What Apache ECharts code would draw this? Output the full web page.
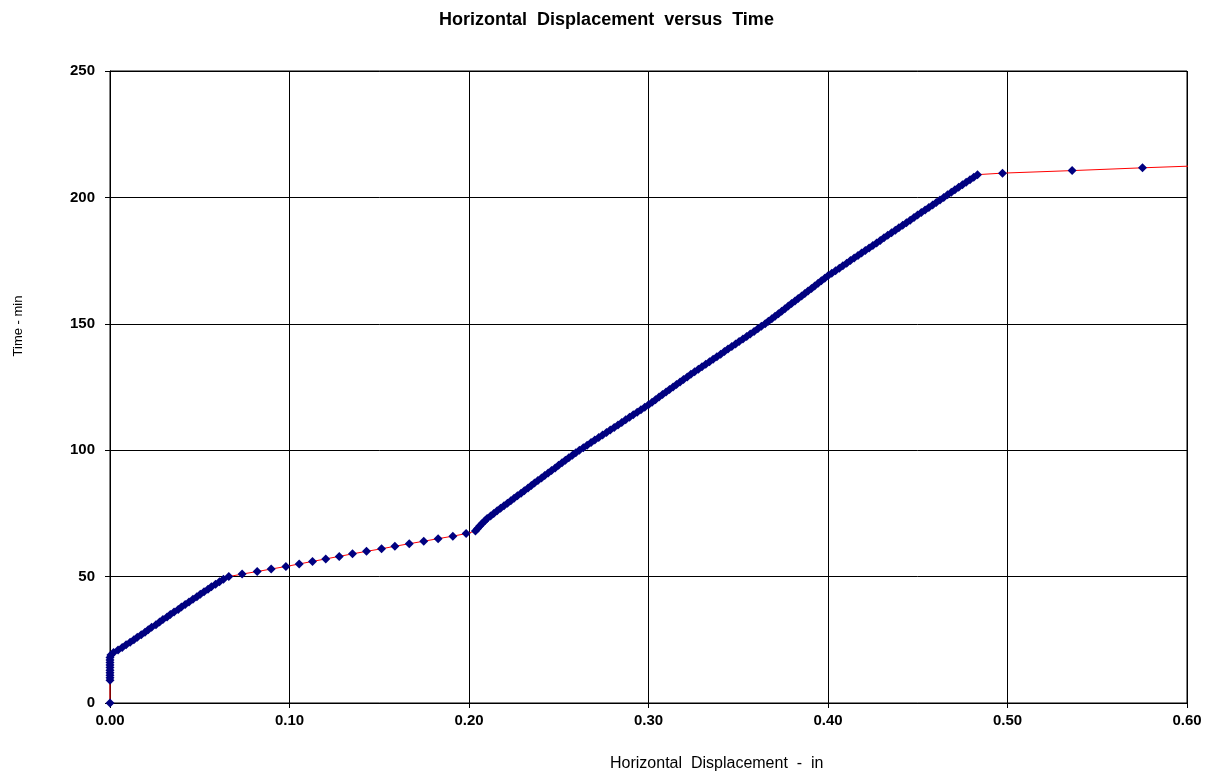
<!DOCTYPE html>
<html>
<head>
<meta charset="utf-8">
<title>Horizontal Displacement versus Time</title>
<script src="https://cdn.jsdelivr.net/npm/echarts@6/dist/echarts.min.js"></script>
<style>
  html, body { margin: 0; padding: 0; background: #ffffff; }
  #chart { width: 1213px; height: 772px; }
</style>
</head>
<body>
<div id="chart"></div>
<script>
// Elapsed time of each reading (min)
const timeMin = [
  0, 9, 10, 11, 12, 13, 14, 15, 16, 17, 18, 19,
  20, 21, 22, 23, 24, 25, 26, 27, 28, 29, 30, 31, 32, 33, 34, 35, 36, 37, 38, 39,
  40, 41, 42, 43, 44, 45, 46, 47, 48, 49,
  50, 51, 52, 53, 54, 55, 56, 57, 58, 59, 60, 61, 62, 63, 64, 65, 66, 67,
  68, 69, 70, 71, 72, 73, 74, 75, 76, 77, 78, 79, 80, 81, 82, 83, 84, 85, 86, 87, 88, 89,
  90, 91, 92, 93, 94, 95, 96, 97, 98, 99, 100, 101, 102, 103, 104, 105, 106, 107, 108, 109,
  110, 111, 112, 113, 114, 115, 116, 117, 118, 119, 120, 121, 122, 123, 124, 125, 126, 127, 128, 129,
  130, 131, 132, 133, 134, 135, 136, 137, 138, 139, 140, 141, 142, 143, 144, 145, 146, 147, 148, 149,
  150, 151, 152, 153, 154, 155, 156, 157, 158, 159, 160, 161, 162, 163, 164, 165, 166, 167, 168, 169,
  170, 171, 172, 173, 174, 175, 176, 177, 178, 179, 180, 181, 182, 183, 184, 185, 186, 187, 188, 189,
  190, 191, 192, 193, 194, 195, 196, 197, 198, 199, 200, 201, 202, 203, 204, 205, 206, 207, 208, 209,
  209.6, 210.6, 211.7, 212.7
];

// Horizontal displacement of each reading (in)
const displacementIn = [
  0.0000, 0.0000, 0.0000, 0.0000, 0.0000, 0.0000, 0.0000, 0.0000, 0.0000, 0.0000, 0.0000, 0.0005,
  0.0020, 0.0045, 0.0068, 0.0090, 0.0112, 0.0133, 0.0152, 0.0174, 0.0195, 0.0213, 0.0232, 0.0256, 0.0276, 0.0295, 0.0318, 0.0336, 0.0357, 0.0380, 0.0398, 0.0419,
  0.0440, 0.0462, 0.0484, 0.0503, 0.0524, 0.0546, 0.0565, 0.0588, 0.0610, 0.0632,
  0.0662, 0.0736, 0.0820, 0.0898, 0.0980, 0.1054, 0.1128, 0.1202, 0.1277, 0.1351, 0.1429, 0.1513, 0.1587, 0.1667, 0.1748, 0.1828, 0.1910, 0.1984,
  0.2036, 0.2048, 0.2060, 0.2073, 0.2087, 0.2101, 0.2120, 0.2138, 0.2157, 0.2176, 0.2195, 0.2214, 0.2233, 0.2251, 0.2270, 0.2290, 0.2308, 0.2329, 0.2347, 0.2365, 0.2384, 0.2404,
  0.2422, 0.2441, 0.2460, 0.2480, 0.2499, 0.2518, 0.2537, 0.2556, 0.2576, 0.2595, 0.2615, 0.2637, 0.2658, 0.2680, 0.2701, 0.2723, 0.2744, 0.2766, 0.2787, 0.2809,
  0.2830, 0.2851, 0.2873, 0.2894, 0.2915, 0.2937, 0.2958, 0.2979, 0.3000, 0.3020, 0.3039, 0.3059, 0.3078, 0.3098, 0.3117, 0.3137, 0.3156, 0.3176, 0.3195, 0.3216,
  0.3236, 0.3257, 0.3278, 0.3298, 0.3319, 0.3340, 0.3360, 0.3381, 0.3402, 0.3423, 0.3443, 0.3464, 0.3485, 0.3505, 0.3526, 0.3547, 0.3567, 0.3588, 0.3609, 0.3629,
  0.3650, 0.3668, 0.3687, 0.3705, 0.3724, 0.3742, 0.3760, 0.3779, 0.3797, 0.3816, 0.3834, 0.3853, 0.3871, 0.3889, 0.3908, 0.3926, 0.3945, 0.3963, 0.3982, 0.4000,
  0.4021, 0.4042, 0.4063, 0.4083, 0.4104, 0.4125, 0.4146, 0.4167, 0.4187, 0.4208, 0.4229, 0.4250, 0.4271, 0.4291, 0.4312, 0.4333, 0.4354, 0.4375, 0.4395, 0.4416,
  0.4437, 0.4458, 0.4479, 0.4499, 0.4520, 0.4541, 0.4562, 0.4583, 0.4603, 0.4624, 0.4645, 0.4666, 0.4687, 0.4707, 0.4728, 0.4749, 0.4770, 0.4791, 0.4812, 0.4833,
  0.4972, 0.5360, 0.5752, 0.6145
];

// Axis ranges and tick spacing
const xTicks = { min: 0, max: 0.6, step: 0.1 };
const yTicks = { min: 0, max: 250, step: 50 };

const points = displacementIn.map((d, i) => [d, timeMin[i]]);

const FONT = '"Liberation Sans", Arial, sans-serif';

const chart = echarts.init(document.getElementById('chart'), null, { renderer: 'canvas' });

chart.setOption({
  backgroundColor: '#ffffff',
  animation: false,
  title: [
    {
      text: 'Horizontal  Displacement  versus  Time',
      left: 'center',
      top: 6,
      textStyle: { fontFamily: FONT, fontSize: 18, fontWeight: 'bold', color: '#000' }
    },
    {
      text: 'Horizontal  Displacement  -  in',
      left: 605,
      top: 751,
      textStyle: { fontFamily: FONT, fontSize: 16, fontWeight: 'normal', color: '#000' }
    }
  ],
  // vertical axis title
  graphic: [
    {
      type: 'text',
      x: 18,
      y: 326,
      rotation: Math.PI / 2,
      style: {
        text: 'Time - min',
        fontFamily: FONT,
        fontSize: 13,
        fill: '#000',
        align: 'center',
        verticalAlign: 'middle'
      }
    }
  ],
  grid: { left: 110, right: 26, top: 71, bottom: 69, show: true, borderColor: '#000', borderWidth: 1 },
  xAxis: {
    type: 'value',
    min: xTicks.min,
    max: xTicks.max,
    interval: xTicks.step,
    axisLine: { show: true, onZero: false, lineStyle: { color: '#000', width: 1 } },
    axisTick: { show: true, inside: false, length: 5, lineStyle: { color: '#000' } },
    splitLine: { show: true, lineStyle: { color: '#000', width: 1 } },
    axisLabel: {
      margin: 10,
      fontFamily: FONT, fontSize: 15, fontWeight: 'bold', color: '#000',
      formatter: v => v.toFixed(2)
    }
  },
  yAxis: {
    type: 'value',
    min: yTicks.min,
    max: yTicks.max,
    interval: yTicks.step,
    axisLine: { show: true, lineStyle: { color: '#000', width: 1 } },
    axisTick: { show: true, inside: false, length: 5, lineStyle: { color: '#000' } },
    splitLine: { show: true, lineStyle: { color: '#000', width: 1 } },
    axisLabel: {
      margin: 15,
      fontFamily: FONT, fontSize: 15, fontWeight: 'bold', color: '#000'
    }
  },
  series: [
    {
      type: 'line',
      data: points,
      clip: true,
      symbol: 'diamond',
      symbolSize: 9,
      showAllSymbol: true,
      lineStyle: { color: '#ff0000', width: 1 },
      itemStyle: { color: '#000080', borderWidth: 0 },
      emphasis: { disabled: true }
    }
  ]
});
</script>
</body>
</html>
